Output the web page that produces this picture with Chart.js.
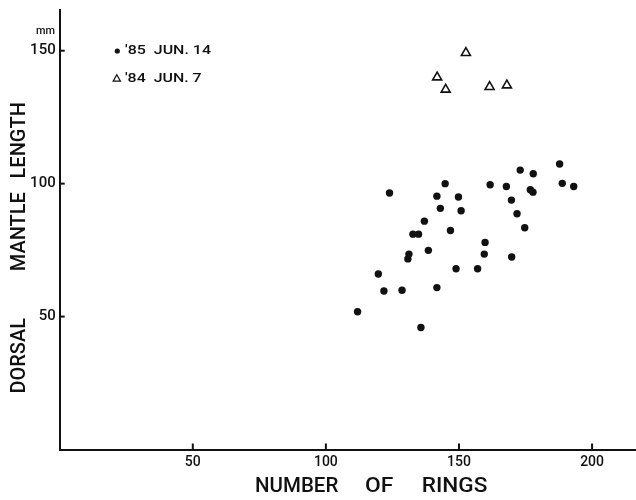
<!DOCTYPE html>
<html>
<head>
<meta charset="utf-8">
<script src="https://cdn.jsdelivr.net/npm/chart.js@4/dist/chart.umd.min.js"></script>
<style>
  html, body { margin: 0; padding: 0; background: #fff; overflow: hidden; }
  #wrap { width: 636px; height: 500px; }
  canvas { display: block; }
</style>
</head>
<body>
<div id="wrap"><canvas id="c" width="636" height="500"></canvas></div>
<script>
// ---- data ----
const rings1985 = [187.8, 173.0, 177.9, 144.8, 161.7, 167.8, 188.8, 193.1, 123.9, 176.8, 177.8, 141.7, 149.8, 169.7, 143.0, 150.8, 171.8, 137.0, 174.7, 132.7, 134.8, 146.8, 159.8, 159.5, 138.5, 131.2, 130.8, 169.8, 148.9, 157.0, 119.7, 121.8, 128.6, 141.7, 111.9, 135.7];
const length1985 = [107.4, 105.1, 103.7, 100.0, 99.6, 98.9, 100.1, 98.9, 96.5, 97.7, 96.8, 95.3, 95.0, 93.8, 90.7, 89.8, 88.7, 85.9, 83.4, 81.0, 81.0, 82.4, 77.9, 73.5, 74.9, 73.5, 71.7, 72.4, 68.0, 68.0, 66.0, 59.6, 59.9, 60.9, 51.8, 45.9];
const rings1984 = [152.6, 141.8, 145.0, 161.5, 168.0];
const length1984 = [149.2, 140.0, 135.4, 136.4, 137.0];
const seriesLabels = ["'85  JUN. 14", "'84  JUN. 7"];
const xTickValues = [50, 100, 150, 200];
const yTickValues = [50, 100, 150];
const xTitleWords = ["NUMBER", "OF", "RINGS"];
const yTitleWords = ["DORSAL", "MANTLE", "LENGTH"];
const yUnit = "mm";

const FONT = "Roboto, 'Liberation Sans', sans-serif";
const INK = "#111";

function toPoints(xs, ys) { return xs.map((x, i) => ({ x: x, y: ys[i] })); }

// horizontal text squeezed/stretched to a target width, centred at (cx, cy)
function fitText(ctx, text, cx, cy, width, font) {
  ctx.save();
  ctx.font = font;
  const w = ctx.measureText(text).width;
  ctx.translate(cx, cy);
  ctx.scale(width / w, 1);
  ctx.textAlign = 'center';
  ctx.textBaseline = 'middle';
  ctx.fillText(text, 0, 0);
  ctx.restore();
}
// rotated text centred at (cx, cy)
function vertText(ctx, text, cx, cy, font) {
  ctx.save();
  ctx.font = font;
  ctx.translate(cx, cy);
  ctx.rotate(-Math.PI / 2);
  ctx.textAlign = 'center';
  ctx.textBaseline = 'middle';
  ctx.fillText(text, 0, 0);
  ctx.restore();
}

const decorPlugin = {
  id: 'decor',
  afterDraw(chart) {
    const ctx = chart.ctx;
    const xs = chart.scales.x, ys = chart.scales.y;
    ctx.save();
    ctx.strokeStyle = INK;
    ctx.fillStyle = INK;
    ctx.lineWidth = 2;
    // inward tick marks
    xTickValues.forEach(v => {
      const px = xs.getPixelForValue(v);
      ctx.beginPath(); ctx.moveTo(px, ys.bottom); ctx.lineTo(px, ys.bottom - 6); ctx.stroke();
    });
    yTickValues.forEach(v => {
      const py = ys.getPixelForValue(v);
      ctx.beginPath(); ctx.moveTo(xs.left, py); ctx.lineTo(xs.left + 5, py); ctx.stroke();
    });
    fitText(ctx, yUnit, 45.5, 31.5, 19, "500 11px " + FONT);

    // axis titles
    const xw = [[296.7, 83.3], [379.2, 28.3], [454.5, 65.6]];
    xTitleWords.forEach((w, i) => fitText(ctx, w, xw[i][0], 487.2, xw[i][1], "500 20px " + FONT));
    const yw = [355.8, 231.7, 140.3];
    yTitleWords.forEach((w, i) => vertText(ctx, w, 20.2, yw[i], "500 20px " + FONT));

    // legend
    ctx.beginPath(); ctx.arc(117.3, 51, 2.6, 0, Math.PI * 2); ctx.fill();
    ctx.lineWidth = 1.2;
    const tx = 116.8, ty = 79, r = 4.2;
    ctx.beginPath();
    ctx.moveTo(tx, ty - r);
    ctx.lineTo(tx + r * Math.sin(2 * Math.PI / 3), ty - r * Math.cos(2 * Math.PI / 3));
    ctx.lineTo(tx + r * Math.sin(4 * Math.PI / 3), ty - r * Math.cos(4 * Math.PI / 3));
    ctx.closePath(); ctx.stroke();
    fitText(ctx, seriesLabels[0], 168, 51.2, 86, "500 13px " + FONT);
    fitText(ctx, seriesLabels[1], 163.3, 78.8, 76.7, "500 13px " + FONT);
    ctx.restore();
  }
};

function zeroPad(s) { s.paddingLeft = 0; s.paddingRight = 0; s.paddingTop = 0; s.paddingBottom = 0; }

const chart = new Chart(document.getElementById('c'), {
  type: 'scatter',
  data: {
    datasets: [
      { label: seriesLabels[0], data: toPoints(rings1985, length1985), pointStyle: 'circle', pointRadius: 3.7, pointHoverRadius: 3.7, backgroundColor: INK, borderColor: INK, borderWidth: 0 },
      { label: seriesLabels[1], data: toPoints(rings1984, length1984), pointStyle: 'triangle', pointRadius: 5.2, pointHoverRadius: 5.2, backgroundColor: '#fff', borderColor: INK, borderWidth: 1.6 }
    ]
  },
  options: {
    responsive: false,
    animation: false,
    devicePixelRatio: 1,
    layout: { autoPadding: false, padding: { top: 9.5, right: 0, left: 0, bottom: 0 } },
    plugins: { legend: { display: false }, tooltip: { enabled: false } },
    scales: {
      x: {
        type: 'linear', min: 0, max: 216.5,
        grid: { display: false, drawTicks: false },
        border: { display: true, color: INK, width: 2 },
        ticks: { stepSize: 50, includeBounds: false, padding: 5, color: INK, font: { family: FONT, size: 14, weight: '500' }, maxRotation: 0,
          callback: v => (v !== 0 && v % 50 === 0) ? String(v) : '' },
        afterFit: s => { s.height = 50.5; zeroPad(s); }
      },
      y: {
        type: 'linear', min: 0, max: 165.5,
        grid: { display: false, drawTicks: false },
        border: { display: true, color: INK, width: 2 },
        ticks: { stepSize: 50, includeBounds: false, padding: 4, color: INK, font: { family: FONT, size: 15, weight: '500' },
          callback: v => (v !== 0 && v % 50 === 0) ? String(v) : '' },
        afterFit: s => { s.width = 59.7; zeroPad(s); }
      }
    }
  },
  plugins: [decorPlugin]
});
</script>
</body>
</html>
